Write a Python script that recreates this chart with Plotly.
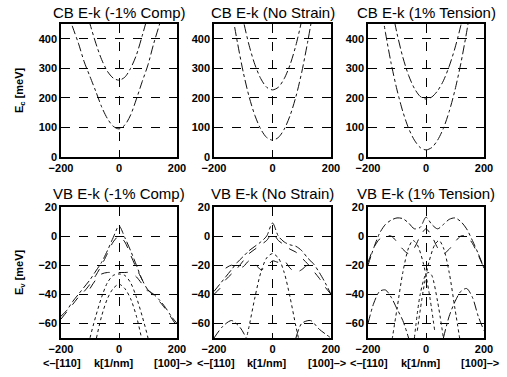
import plotly.graph_objects as go

# ---------------- data ----------------
K = [-200, -180, -160, -140, -120, -100, -80, -60, -40, -20, 0,
     20, 40, 60, 80, 100, 120, 140, 160, 180, 200]

# Conduction band (meV)
cb_comp_lower = [560, 500, 440, 385, 322, 272, 222, 170, 130, 104, 95,
                 108, 142, 196, 255, 312, 385, 450, 520, 600, 680]
cb_comp_upper = [None, None, None, None, 520, 450, 385, 330, 290, 267, 260,
                 270, 300, 345, 410, 480, None, None, None, None, None]
cb_none_lower = [None, None, 620, 500, 388, 287, 204, 140, 94, 66, 57,
                 66, 94, 140, 204, 287, 388, 500, 620, None, None]
cb_none_upper = [None, None, None, None, 568, 463, 378, 312, 265, 236, 227,
                 236, 265, 312, 378, 463, 568, None, None, None, None]
cb_tens_lower = [None, None, 544, 422, 316, 227, 154, 97, 57, 32, 24,
                 32, 57, 97, 154, 227, 316, 422, 544, None, None]
cb_tens_upper = [None, None, None, None, 516, 418, 338, 276, 232, 205, 196,
                 203, 224, 258, 307, 369, 445, 535, None, None, None]

# Valence band, -1% compression (meV)
vb_comp_a = [-55, -51, -45, -40, -35, -30, -24, -18, -10, -1, 7,
             -1, -10, -20, -30, -37, -40, -44, -49, -55, -60]
vb_comp_b = [-57, -52, -47, -42, -38, -33, -27, -20, -12, -4, 0,
             -4, -13, -22, -30, -37, -41, -45, -50, -56, -62]
vb_comp_c_k = [-100, -80, -60, -40, -20, 0, 20, 40, 60, 80, 100]
vb_comp_c = [-36, -30, -26, -25, -25, -25, -25, -25, -28, -33, -38]
vb_comp_d_k = [-100, -80, -60, -40, -20, 0, 20, 40, 60, 80, 100]
vb_comp_d = [-90, -72, -55, -43, -36, -33, -36, -43, -55, -72, -90]
vb_comp_e_k = [-120, -100, -80, -60, -40, -20, 0, 20, 40, 60, 80, 100, 120]
vb_comp_e = [-90, -70, -55, -42, -32, -27, -26, -27, -32, -42, -55, -70, -90]

# Valence band, no strain (meV)
vb_none_a = [-38, -33, -28, -23, -18, -14, -10, -7, -4, 0, 9,
             0, -4, -6, -7, -10, -15, -19, -25, -32, -40]
vb_none_b = [-40, -36, -30, -26, -22, -17, -12, -9, -6, -3, 2,
             -3, -6, -9, -11, -15, -19, -24, -29, -35, -40]
vb_none_c_k = [-160, -140, -120, -100, -80, -60, -40, -20, 0, 20, 40, 60, 80, 100, 120, 140]
vb_none_c = [-22, -20, -22, -21, -17, -19, -23, -21, -17, -18, -17, -22, -25, -23, -20, -22]
vb_none_d_k = [-100, -80, -60, -40, -20, 0, 20, 40, 60, 80, 100]
vb_none_d = [-80, -62, -42, -25, -15, -12, -15, -25, -42, -62, -80]
vb_none_e_k = [-200, -170, -140, -110, -90, None, 80, 100, 130, 160, 200]
vb_none_e = [-70, -62, -58, -63, -70, None, -70, -60, -58, -64, -70]

# Valence band, 1% tension (meV)
vb_tens_a = [-20, -8, 2, 8, 11, 12.5, 12, 9, 5, 6, 13,
             8, 5, 8, 11.5, 12.5, 10, 5, -3, -12, -22]
vb_tens_b = [-18, -8, -2, 0, 0, -4, -9, -12, -8, 0, 5,
             0, -8, -12, -9, -4, 0, 0, -5, -13, -22]
vb_tens_c_k = [-120, -100, -80, -60, -45, -30, -10, 10, 30]
vb_tens_c = [-75, -50, -25, -8, -3, -6, -18, -38, -65]
vb_tens_d_k = [-30, -10, 10, 30, 45, 60, 80, 100, 120]
vb_tens_d = [-65, -38, -18, -6, -3, -8, -25, -50, -75]
vb_tens_e_k = [-200, -180, -160, -140, -120, -100, -80, -60, None, 60, 80, 100, 120, 140, 160, 180, 200]
vb_tens_e = [-60, -46, -38, -37, -42, -50, -58, -70, None, -70, -55, -45, -38, -36, -42, -55, -65]
vb_tens_f_k = [-40, -20, 0, 10, 20, 40, 60]
vb_tens_f = [-70, -40, -26, -25, -27, -45, -70]

top_titles = ["CB E-k (-1% Comp)", "CB E-k (No Strain)", "CB E-k (1% Tension)"]
bot_titles = ["VB E-k (-1% Comp)", "VB E-k (No Strain)", "VB E-k (1% Tension)"]
x_ticks = [-200, 0, 200]
cb_ticks = [0, 100, 200, 300, 400]
vb_ticks = [20, 0, -20, -40, -60]

# ---------------- figure ----------------
W, H = 507, 377
FONT = "Liberation Sans, Arial, sans-serif"
XD = [[61 / W, 177 / W], [214 / W, 331 / W], [368 / W, 484 / W]]
YTOP = [1 - 157 / H, 1 - 24 / H]
YBOT = [1 - 338 / H, 1 - 207 / H]

fig = go.Figure()


def add(ax, x, y, dash):
    xs = "x" if ax == 1 else f"x{ax}"
    ys = "y" if ax == 1 else f"y{ax}"
    fig.add_trace(go.Scatter(x=x, y=y, mode="lines", xaxis=xs, yaxis=ys,
                             line=dict(color="#111", width=1, dash=dash, shape="spline",
                                       smoothing=0.8),
                             connectgaps=False, showlegend=False, hoverinfo="skip"))


add(1, K, cb_comp_lower, "dashdot")
add(1, K, cb_comp_upper, "dashdot")
add(2, K, cb_none_lower, "dashdot")
add(2, K, cb_none_upper, "dashdot")
add(3, K, cb_tens_lower, "dashdot")
add(3, K, cb_tens_upper, "dashdot")

add(4, K, vb_comp_a, "dashdot")
add(4, K, vb_comp_b, "dash")
add(4, vb_comp_c_k, vb_comp_c, "dash")
add(4, vb_comp_d_k, vb_comp_d, "dot")
add(4, vb_comp_e_k, vb_comp_e, "dot")

add(5, K, vb_none_a, "dashdot")
add(5, K, vb_none_b, "dash")
add(5, vb_none_c_k, vb_none_c, "dash")
add(5, vb_none_d_k, vb_none_d, "dot")
add(5, vb_none_e_k, vb_none_e, "dashdot")

add(6, K, vb_tens_a, "dashdot")
add(6, K, vb_tens_b, "dash")
add(6, vb_tens_c_k, vb_tens_c, "dot")
add(6, vb_tens_d_k, vb_tens_d, "dot")
add(6, vb_tens_e_k, vb_tens_e, "dashdot")
add(6, vb_tens_f_k, vb_tens_f, "dot")

axis_common = dict(showline=True, mirror=True, linecolor="black", linewidth=1.5,
                   ticks="", showgrid=True, gridcolor="black", gridwidth=1,
                   griddash="dash", zeroline=False, automargin=False,
                   tickfont=dict(family=FONT, size=11, color="black", weight="bold"))

layout = dict(width=W, height=H,
              margin=dict(l=0, r=0, t=0, b=0, pad=0, autoexpand=False),
              plot_bgcolor="white", paper_bgcolor="white",
              font=dict(family=FONT, color="black"))

for i in range(6):
    n = i + 1
    xa = "xaxis" if n == 1 else f"xaxis{n}"
    ya = "yaxis" if n == 1 else f"yaxis{n}"
    col = i % 3
    top = i < 3
    layout[xa] = dict(axis_common, domain=XD[col], range=[-200, 200],
                      tickvals=x_ticks, anchor="y" if n == 1 else f"y{n}")
    if top:
        layout[ya] = dict(axis_common, domain=YTOP, range=[0, 450],
                          tickvals=cb_ticks, anchor="x" if n == 1 else f"x{n}")
    else:
        layout[ya] = dict(axis_common, domain=YBOT, range=[-70, 20],
                          tickvals=vb_ticks, anchor=f"x{n}")

fig.update_layout(**layout)

TFONT = dict(size=15, family=FONT, color="black")
SFONT = dict(size=11, family=FONT, color="black", weight="bold")
ann = []
for col in range(3):
    cx = (XD[col][0] + XD[col][1]) / 2
    ann.append(dict(text=top_titles[col], x=cx, y=1 - 12 / H, xref="paper", yref="paper",
                    showarrow=False, font=TFONT, xanchor="center", yanchor="middle"))
    ann.append(dict(text=bot_titles[col], x=cx, y=1 - 193 / H, xref="paper", yref="paper",
                    showarrow=False, font=TFONT, xanchor="center", yanchor="middle"))
    cpx = cx * W
    for off, txt in [(-57, "<–[110]"), (-6, "k[1/nm]"), (54, "[100]–>")]:
        ann.append(dict(text=txt, x=(cpx + off) / W, y=1 - 363 / H, xref="paper", yref="paper",
                        showarrow=False, font=SFONT, xanchor="center", yanchor="middle"))

ann.append(dict(text="E<sub>c</sub> [meV]", x=20 / W, y=1 - 90 / H, xref="paper", yref="paper",
                showarrow=False, textangle=-90, font=SFONT,
                xanchor="center", yanchor="middle"))
ann.append(dict(text="E<sub>v</sub> [meV]", x=20 / W, y=1 - 272 / H, xref="paper", yref="paper",
                showarrow=False, textangle=-90, font=SFONT,
                xanchor="center", yanchor="middle"))
fig.update_layout(annotations=ann)

fig.write_html("out.html", config={"displayModeBar": False},
               post_script="document.body.style.margin='0';document.body.style.padding='0';")
